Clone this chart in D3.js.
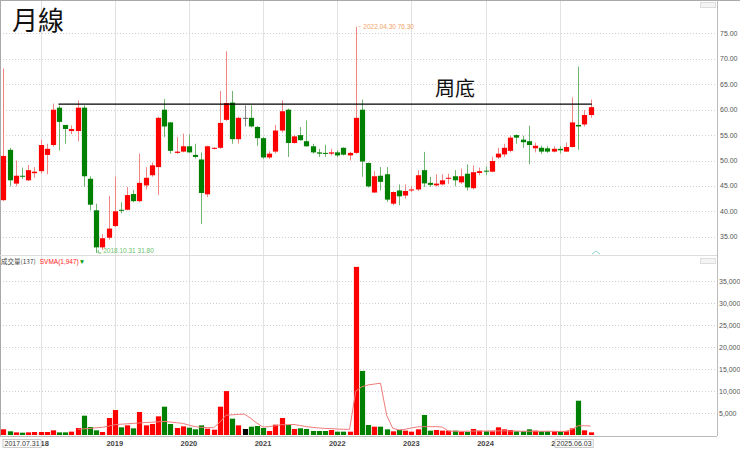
<!DOCTYPE html>
<html>
<head>
<meta charset="utf-8">
<script src="https://cdn.jsdelivr.net/npm/d3@7"></script>
<style>
  body { margin: 0; background: #fff; }
  svg { display: block; font-family: "Liberation Sans", Arial, sans-serif; }
</style>
</head>
<body>
<div id="chart"></div>
<script>
// monthly candles 2017.07 - 2025.06
var months = d3.timeMonth.range(new Date(2017, 6, 1), new Date(2025, 6, 1));

var open = [42.2,52.1,45.45,47.0,46.1,47.5,47.9,51.1,53.05,60.4,
  57.0,55.8,55.8,60.4,46.4,40.2,32.9,34.8,37.1,40.3,
  40.3,43.4,42.0,45.1,47.1,48.7,60.0,57.5,51.5,51.75,
  52.8,51.1,50.2,43.35,52.3,52.5,58.0,61.4,54.2,58.4,
  58.4,56.6,54.4,50.6,51.75,55.9,60.0,53.45,55.0,53.8,
  52.8,51.6,51.5,51.35,51.6,52.5,51.0,51.5,60.0,49.5,
  43.7,47.0,47.3,41.5,44.1,43.1,44.1,44.3,48.1,45.6,
  45.1,45.3,46.4,46.9,45.7,47.4,44.55,47.55,48.0,47.8,
  50.6,51.2,51.9,55.0,54.1,53.8,52.4,52.5,52.4,51.75,
  52.3,51.75,52.65,57.0,57.1,58.95];
var high = [68.1,52.5,50.0,48.6,49.1,48.7,54.1,53.3,61.2,60.8,
  57.0,56.9,61.8,60.85,46.9,41.5,35.5,43.0,46.8,41.8,
  44.8,44.2,51.35,48.7,49.6,58.6,62.1,57.6,54.6,55.3,
  55.2,53.3,51.6,52.9,52.6,63.7,71.5,63.7,58.6,60.85,
  60.85,56.8,54.6,51.8,57.0,61.8,60.2,55.0,56.6,57.9,
  53.3,52.3,53.1,52.3,52.0,52.6,51.7,76.3,62.0,49.6,
  47.9,48.7,48.7,43.9,45.3,45.3,45.0,48.1,51.7,46.8,
  47.3,47.3,47.4,48.1,48.4,49.25,49.05,48.6,48.8,50.7,
  52.5,53.3,54.9,55.15,54.9,56.85,53.5,52.9,52.8,52.8,
  52.8,53.5,62.4,68.5,59.9,62.0];
var low = [42.0,44.9,44.9,46.4,46.0,46.6,47.4,47.3,52.7,52.0,
  53.3,55.2,53.8,44.8,40.2,31.8,32.4,34.4,36.9,39.6,
  40.2,41.8,41.8,44.3,46.8,43.2,54.6,51.35,51.3,51.6,
  51.5,50.4,37.5,42.8,52.2,52.3,57.8,53.3,53.3,56.7,
  56.5,52.9,50.3,50.3,51.4,55.5,50.7,53.3,53.9,52.7,
  51.35,50.7,50.7,51.0,50.7,51.0,50.0,51.3,46.8,44.7,
  43.6,44.1,41.85,41.2,41.2,42.5,43.8,44.0,44.8,44.8,
  44.9,45.1,45.4,44.9,45.4,44.1,44.3,47.1,47.1,47.7,
  50.3,50.7,51.6,53.3,52.5,49.25,51.6,51.3,51.5,51.6,
  51.4,51.7,52.6,52.1,56.7,58.4];
var close = [50.9,46.1,47.0,46.9,48.1,47.8,53.05,52.3,60.0,57.6,
  56.2,56.2,60.4,46.9,41.3,32.9,34.7,36.6,40.0,40.1,
  43.2,42.0,45.6,46.6,49.05,58.4,56.7,51.9,51.75,52.8,
  51.6,50.7,43.6,52.8,52.5,57.4,61.3,54.2,58.4,58.4,
  56.7,54.4,50.6,51.35,55.9,59.7,53.45,54.75,54.0,52.8,
  51.6,51.35,51.45,51.6,51.0,51.15,51.5,58.4,49.8,44.9,
  46.9,45.8,42.3,43.8,42.95,44.0,44.3,47.1,45.5,45.2,
  45.45,46.1,46.6,46.1,46.9,44.7,47.7,47.9,47.85,49.9,
  51.35,52.5,54.5,54.5,53.6,53.05,52.9,51.75,51.75,52.3,
  52.0,52.65,57.5,56.7,58.95,60.5];
var volume = [1300,840,600,530,600,680,680,680,1060,600,
  600,760,1600,4400,1820,1060,680,3870,5690,1750,
  2200,1520,5240,2200,2500,4250,6450,2500,1600,1970,
  1670,1300,2200,1440,1210,6450,10000,3720,2200,1370,
  1900,2050,1600,910,2350,3870,2280,1370,1520,1370,
  910,910,910,1140,760,760,760,38300,14600,2280,
  1900,1900,1290,840,1140,990,760,1290,4560,990,
  1140,990,990,990,760,680,1370,990,840,840,
  1750,1290,1140,840,840,1290,990,840,840,840,
  840,840,1520,7810,1060,600];
var svma = [null,null,null,null,null,null,null,null,null,null,
  null,null,1300,1400,1500,1650,1750,2000,2350,2450,
  2550,2650,2750,2850,2900,3000,3100,2950,2800,2650,
  2250,1900,1750,1700,1650,2900,4500,4600,4700,4750,
  3800,2700,1800,1900,2100,2350,2350,2400,2150,1900,
  1750,1600,1500,1450,1350,1300,1280,10000,11000,11400,
  11600,11800,4500,1500,1150,1300,1600,1850,1900,1900,
  1900,1800,900,850,850,850,900,900,900,950,
  950,950,900,900,850,850,850,850,850,850,
  800,850,1300,2100,2100,2050];

var priceTicks = [35,40,45,50,55,60,65,70,75];
var volTicks = [5000,10000,15000,20000,25000,30000,35000];
var yearTicks = [2018,2019,2020,2021,2022,2023,2024,2025];
var supportLine = { price: 61.1, from: 8.9, to: 95.2, label: "周底" };
var highNote = { idx: 57, text: "2022.04.30  76.30" };
var lowNote = { idx: 15, text: "2018.10.31  31.80" };

var width = 740, height = 449;
var plotRight = 717;
var priceTop = 2, priceBottom = 255, volBottom = 436;
var upColor = "#ff0000", downColor = "#008000";

var svg = d3.select("#chart").append("svg")
  .attr("width", width).attr("height", height);

var x = d3.scaleBand().domain(d3.range(months.length))
  .range([0.9, 593.2]).paddingInner(0.16);
var bw = x.bandwidth();
function xc(i) { return x(0) + bw / 2 + i * x.step(); }

var yP = d3.scaleLinear().domain([31.4, 81.2]).range([priceBottom, priceTop]);
var yV = d3.scaleLinear().domain([0, 40000]).range([435, 259.4]);

function colorOf(i) {
  if (close[i] > open[i]) return upColor;
  if (close[i] < open[i]) return downColor;
  return "#000";
}

// year grid
var yearIdx = yearTicks.map(function(y) {
  return months.findIndex(function(m) { return m.getFullYear() == y && m.getMonth() == 0; });
});
svg.append("g").selectAll("line").data(yearIdx).enter().append("line")
  .attr("x1", function(d) { return Math.round(xc(d)) + 0.5; })
  .attr("x2", function(d) { return Math.round(xc(d)) + 0.5; })
  .attr("y1", 0).attr("y2", volBottom)
  .attr("stroke", "#e2e2e2");

// dotted horizontal grid
svg.append("g").selectAll("line").data(priceTicks).enter().append("line")
  .attr("x1", 0).attr("x2", plotRight)
  .attr("y1", function(d) { return Math.round(yP(d)) + 0.5; })
  .attr("y2", function(d) { return Math.round(yP(d)) + 0.5; })
  .attr("stroke", "#cfcfcf").attr("stroke-dasharray", "1,2");
svg.append("g").selectAll("line").data(volTicks).enter().append("line")
  .attr("x1", 0).attr("x2", plotRight)
  .attr("y1", function(d) { return Math.round(yV(d)) + 0.5; })
  .attr("y2", function(d) { return Math.round(yV(d)) + 0.5; })
  .attr("stroke", "#cfcfcf").attr("stroke-dasharray", "1,2");

// frame
svg.append("line").attr("x1", 0.5).attr("x2", 0.5).attr("y1", 0).attr("y2", volBottom).attr("stroke", "#aaa");
svg.append("line").attr("x1", 0).attr("x2", width).attr("y1", 0.5).attr("y2", 0.5).attr("stroke", "#aaa");
svg.append("line").attr("x1", plotRight + 0.5).attr("x2", plotRight + 0.5).attr("y1", 0).attr("y2", volBottom).attr("stroke", "#bbb");
svg.append("line").attr("x1", 0).attr("x2", plotRight).attr("y1", priceBottom + 0.5).attr("y2", priceBottom + 0.5).attr("stroke", "#ddd");
svg.append("line").attr("x1", 0).attr("x2", plotRight).attr("y1", volBottom + 0.5).attr("y2", volBottom + 0.5).attr("stroke", "#bbb");

// right axis labels
svg.append("g").selectAll("text").data(priceTicks).enter().append("text")
  .attr("x", 720).attr("y", function(d) { return yP(d); }).attr("dy", "0.35em")
  .attr("font-size", "7px").attr("fill", "#555")
  .text(function(d) { return d3.format(".2f")(d); });
svg.append("g").selectAll("text").data(volTicks).enter().append("text")
  .attr("x", 719).attr("y", function(d) { return yV(d); }).attr("dy", "0.35em")
  .attr("font-size", "7px").attr("fill", "#555")
  .text(function(d) { return d3.format(",")(d); });

// candles
var candles = svg.append("g").selectAll("g").data(months).enter().append("g");
candles.append("line")
  .attr("x1", function(d, i) { return Math.round(xc(i)) + 0.5; })
  .attr("x2", function(d, i) { return Math.round(xc(i)) + 0.5; })
  .attr("y1", function(d, i) { return yP(high[i]); })
  .attr("y2", function(d, i) { return yP(low[i]); })
  .attr("stroke", function(d, i) {
    var c = colorOf(i);
    return c == upColor ? "#f08585" : (c == downColor ? "#6fb56f" : "#888");
  });
candles.append("rect")
  .attr("x", function(d, i) { return Math.round(xc(i)) + 0.5 - bw / 2; })
  .attr("width", bw)
  .attr("y", function(d, i) { return yP(Math.max(open[i], close[i])); })
  .attr("height", function(d, i) { return Math.max(1, Math.abs(yP(open[i]) - yP(close[i]))); })
  .attr("fill", function(d, i) { var c = colorOf(i); return c == "#000" ? "#666" : c; });

// support line
svg.append("line")
  .attr("x1", xc(supportLine.from)).attr("x2", xc(supportLine.to))
  .attr("y1", yP(supportLine.price)).attr("y2", yP(supportLine.price))
  .attr("stroke", "#000").attr("stroke-width", 1.3);
svg.append("text")
  .attr("x", 435).attr("y", yP(supportLine.price) - 8)
  .attr("font-family", "'Noto Sans CJK TC', 'Noto Sans CJK SC', sans-serif")
  .attr("font-size", "20px").attr("fill", "#111")
  .text(supportLine.label);

// high / low notes
svg.append("text")
  .attr("x", xc(highNote.idx) + 2).attr("y", yP(high[highNote.idx]))
  .attr("dy", "0.35em").attr("font-size", "6.5px").attr("fill", "#f2a46a")
  .text("\u2212 " + highNote.text);
svg.append("path")
  .attr("d", "M" + (xc(lowNote.idx) + 2) + "," + (yP(low[lowNote.idx]) - 3) + "v3h3")
  .attr("fill", "none").attr("stroke", "#6cbf6c");
svg.append("text")
  .attr("x", xc(lowNote.idx) + 7).attr("y", yP(low[lowNote.idx]) - 2)
  .attr("dy", "0.35em").attr("font-size", "6.5px").attr("fill", "#6cbf6c")
  .text(lowNote.text);

// title
svg.append("text")
  .attr("x", 12).attr("y", 30)
  .attr("font-family", "'Noto Sans CJK TC', 'Noto Sans CJK SC', sans-serif")
  .attr("font-size", "26px").attr("fill", "#111")
  .text("月線");

// small marker and icons
svg.append("path").attr("d", "M592,254 L596,251 L600,254")
  .attr("fill", "none").attr("stroke", "#8fd8cc");
svg.append("rect").attr("x", 700.5).attr("y", 2.5).attr("width", 15).attr("height", 5)
  .attr("fill", "#f4f4f4").attr("stroke", "#ddd");
svg.append("rect").attr("x", 700.5).attr("y", 258.5).attr("width", 15).attr("height", 5)
  .attr("fill", "#f4f4f4").attr("stroke", "#ddd");

// volume bars
svg.append("g").selectAll("rect").data(volume).enter().append("rect")
  .attr("x", function(d, i) { return Math.round(xc(i)) + 0.5 - bw / 2; })
  .attr("width", bw)
  .attr("y", function(d) { return yV(d); })
  .attr("height", function(d) { return yV(0) - yV(d); })
  .attr("fill", function(d, i) { return colorOf(i); });

// svma line
var maLine = d3.line()
  .defined(function(d) { return d != null; })
  .x(function(d, i) { return xc(i); })
  .y(function(d) { return yV(d); });
svg.append("path").datum(svma)
  .attr("d", maLine).attr("fill", "none")
  .attr("stroke", "#f07a7a").attr("stroke-width", 1);

// volume header
var hdr = svg.append("text").attr("x", 1).attr("y", 262).attr("dy", "0.35em").attr("font-size", "6.5px");
hdr.append("tspan").attr("fill", "#444")
  .attr("font-family", "'Noto Sans CJK TC', sans-serif").text("成交量(137)");
hdr.append("tspan").attr("fill", "#ff2020").attr("dx", 4).text("SVMA(1,947)");
hdr.append("tspan").attr("fill", "#0a9a0a").text("▼");

// x axis labels
svg.append("g").selectAll("text").data(yearIdx).enter().append("text")
  .attr("x", function(d) { return xc(d); }).attr("y", 446)
  .attr("text-anchor", "middle").attr("font-size", "7.5px")
  .attr("font-weight", "bold").attr("fill", "#444")
  .text(function(d) { return months[d].getFullYear(); });

function dateBox(label, xPos, anchor) {
  var g = svg.append("g");
  var t = g.append("text").attr("x", xPos).attr("y", 446)
    .attr("text-anchor", anchor).attr("font-size", "7px").attr("fill", "#333")
    .text(label);
  var bb = t.node().getBBox();
  g.insert("rect", "text").attr("x", bb.x - 1.5).attr("y", bb.y - 0.5)
    .attr("width", bb.width + 3).attr("height", bb.height + 1)
    .attr("fill", "#fff").attr("stroke", "#ccc");
}
dateBox("2017.07.31", xc(0) + 1, "start");
dateBox("2025.06.03", xc(months.length - 1) + 1, "end");
</script>
</body>
</html>
